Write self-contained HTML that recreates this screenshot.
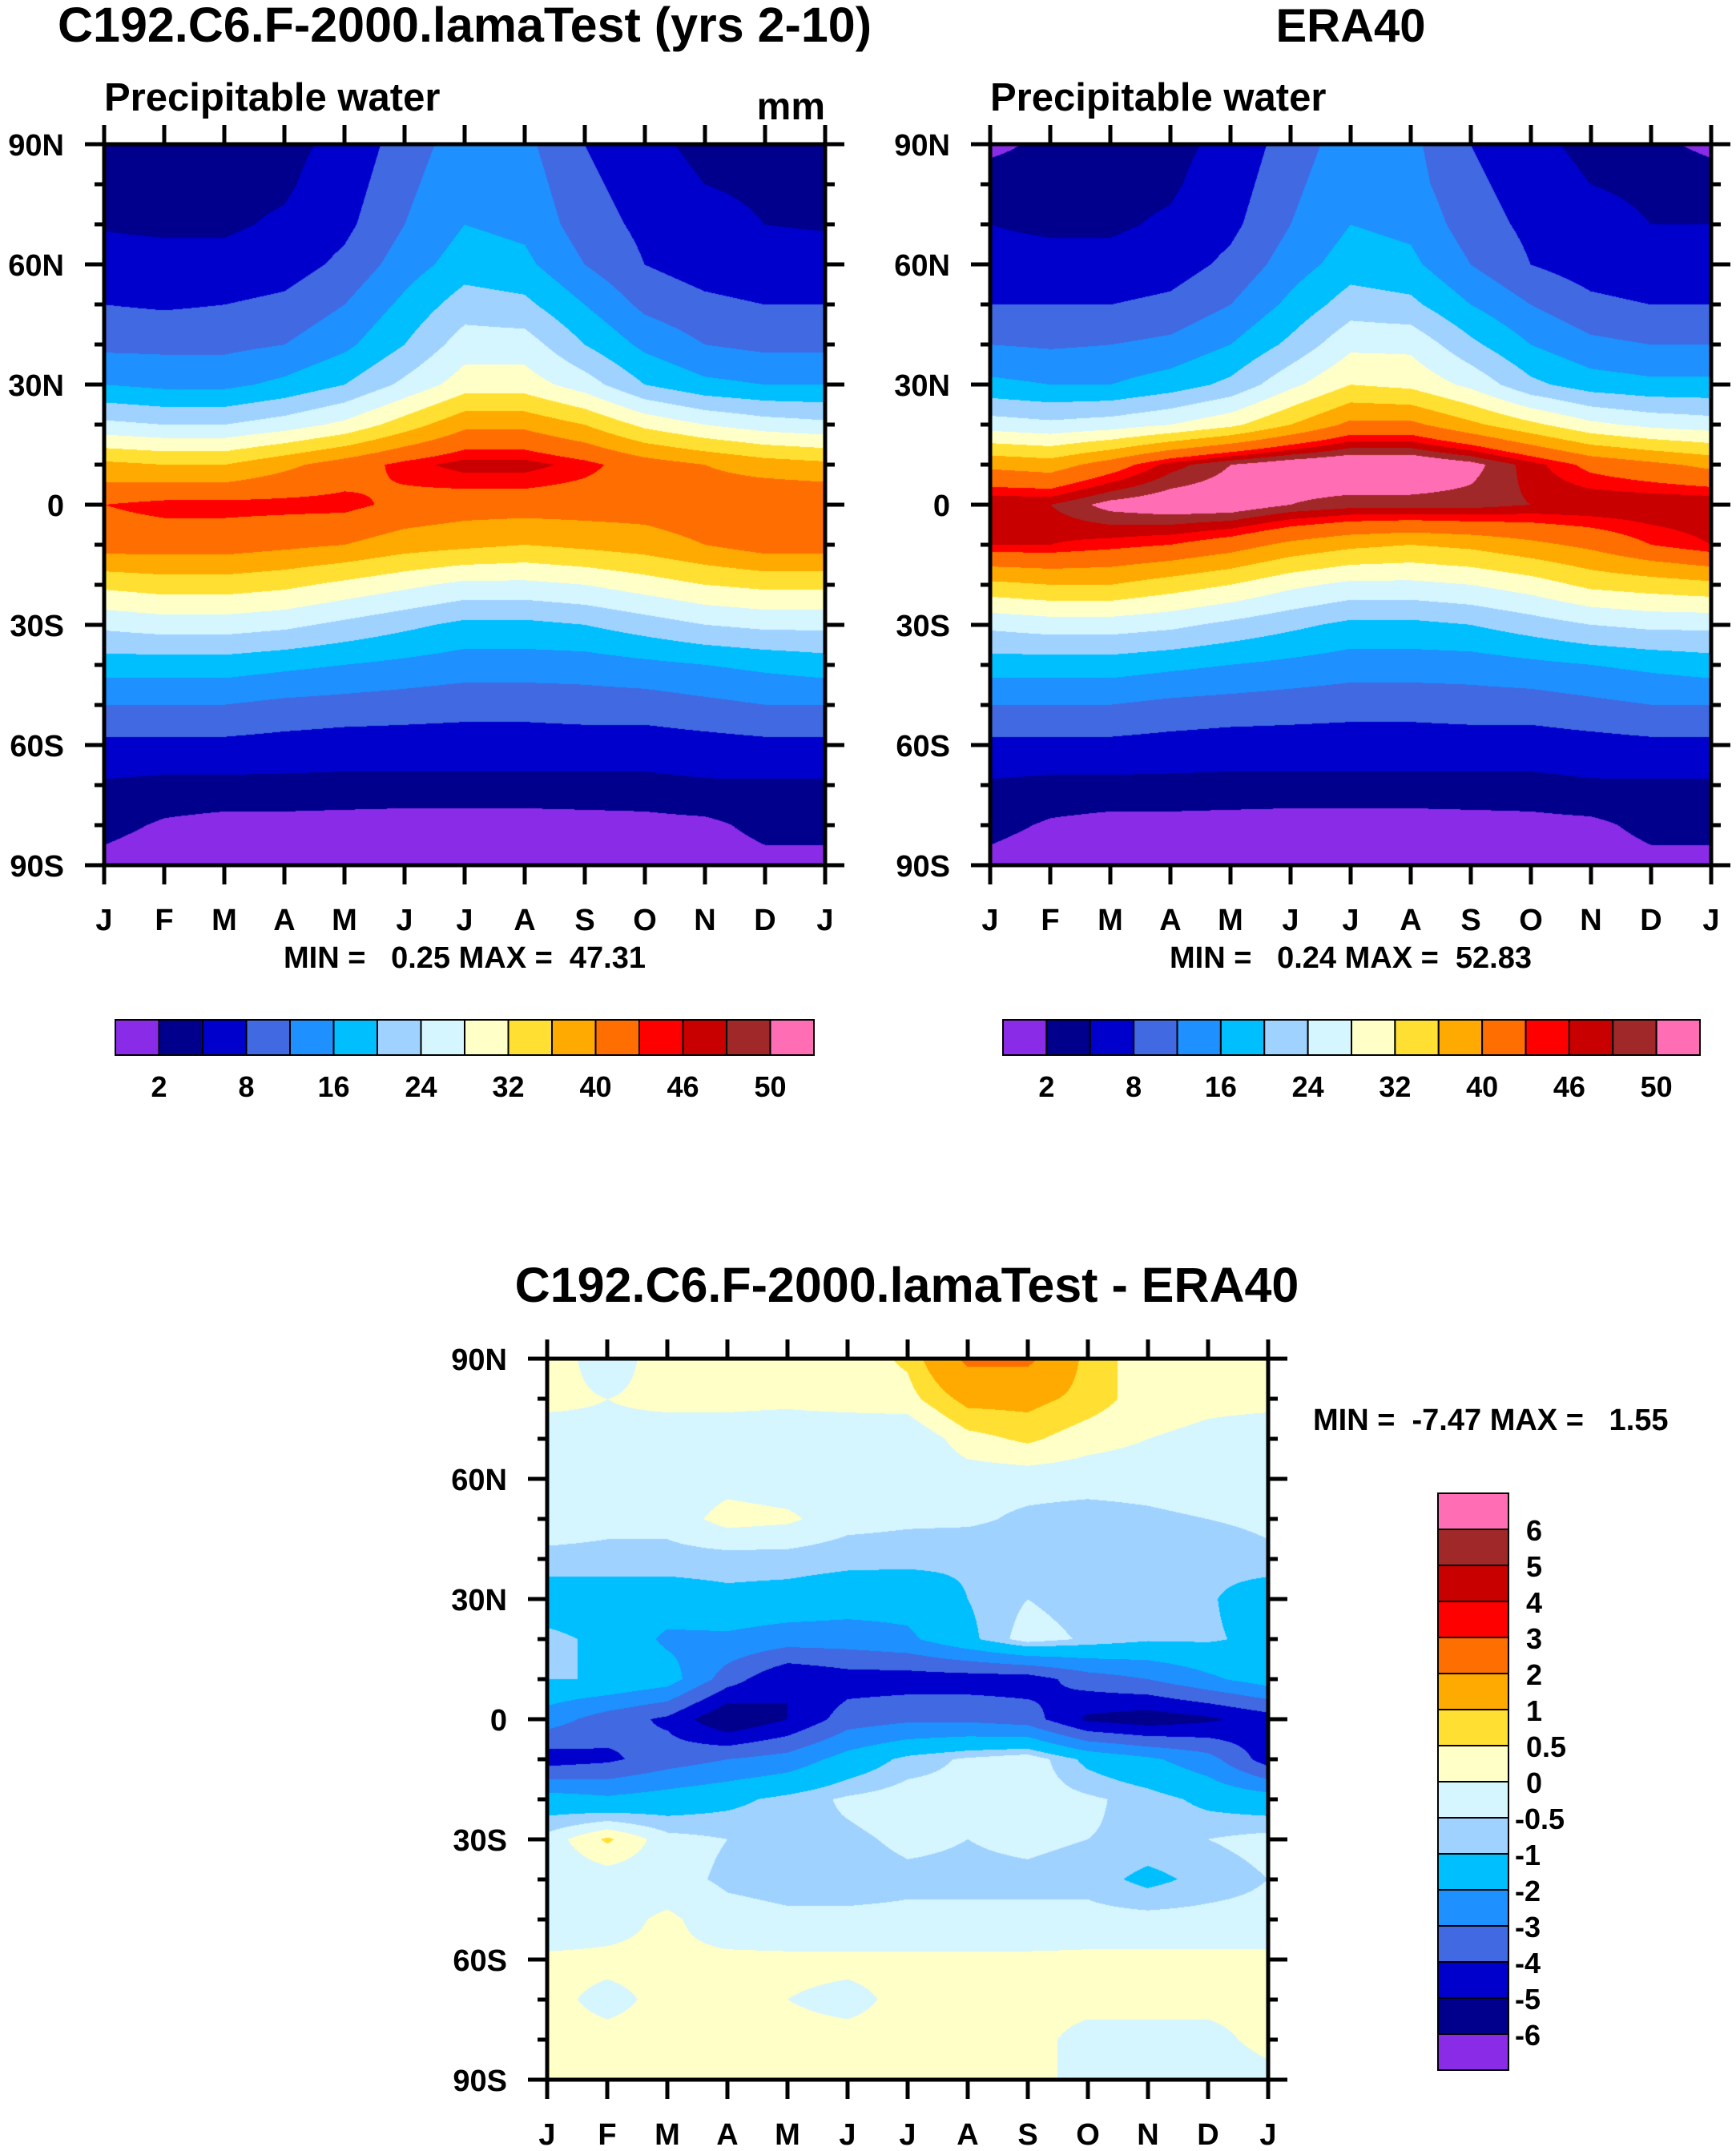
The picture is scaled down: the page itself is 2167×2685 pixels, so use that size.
<!DOCTYPE html>
<html><head><meta charset="utf-8">
<style>
html,body{margin:0;padding:0;background:#fff;}
body{width:2167px;height:2685px;position:relative;overflow:hidden;font-family:"Liberation Sans",Arial,sans-serif;}
canvas{position:absolute;}
svg{position:absolute;left:0;top:0;}
text{font-family:"Liberation Sans",Arial,sans-serif;font-weight:bold;fill:#000;white-space:pre;}
</style></head>
<body>
<canvas id="c1" width="900" height="900" style="left:130px;top:180px"></canvas>
<canvas id="c2" width="900" height="900" style="left:1236px;top:180px"></canvas>
<canvas id="c3" width="900" height="900" style="left:683px;top:1696px"></canvas>
<svg id="ov" width="2167" height="2685"></svg>
<script>
const months = ["J","F","M","A","M","J","J","A","S","O","N","D","J"];
const latLabels = ["90N","60N","30N","0","30S","60S","90S"];
const colors = ["#8A2BE8","#00008C","#0000CD","#4169E1","#1E90FF","#00BFFF","#A0D2FF","#D5F5FF","#FFFFC8","#FFE032","#FFAA00","#FF6E00","#FF0000","#C80000","#A02828","#FF6EB4"];
const pwLevels = [2,4,8,12,16,20,24,28,32,36,40,44,46,48,50];
const pwLabels = ["2","8","16","24","32","40","46","50"];
const diffLevels = [-6,-5,-4,-3,-2,-1,-0.5,0,0.5,1,2,3,4,5,6];
const diffLabels = ["6","5","4","3","2","1","0.5","0","-0.5","-1","-2","-3","-4","-5","-6"];
// rows: 90N..90S step 10 deg; columns: J..J
const modelPW = [
[3,2.5,2.5,3,5,10,14,13,8,5,3,3,3],
[3,3,3,3.5,6,11,15,14,9,6,4,3.5,3],
[3.8,3.5,3.5,4.5,7,12,16,15,10,7,5,4,3.8],
[5,5,5,6,9,14,18,17,12,8,6,5,5],
[8,7.5,8,9,12,17,22,21,16,11,9,8,8],
[11,11,11,12,15,20,26,26,20,15,12,11,11],
[16,15,15,17,20,25,30,30,26,20,17,16,16],
[25,24,24,26,29,34,39,39,36,31,28,26,25],
[37,36,36,39,42,45,47,47,45,42,40,38,37],
[44,45,45,45,45,43,42,42,42,42,43,44,44],
[42,42,42,41,40,38,37,36,37,38,40,42,42],
[33,34,34,33,31,29,27,27,28,30,32,33,33],
[25,26,26,25,23,21,19,19,20,22,24,25,25],
[18,18,18,17,16,15,14,14,14,15,16,17,18],
[12,12,12,11,10.5,10,9.5,9.5,10,10,11,12,12],
[7,7,7,6.5,6,6,6,6,6,6,6.5,7,7],
[3.5,3,3,3,3,3,3,3,3,3,3.5,3.5,3.5],
[2.5,1.8,1.5,1.5,1.4,1.3,1.3,1.3,1.4,1.5,1.6,2.5,2.5],
[1.5,1,1,1,1,1,1,1,1,1,1,1.5,1.5]];
const eraPW = [
[1.5,2.5,2.5,3,5,10,14,13,8,5,3,2.5,1.5],
[3,3,3,3.5,6,11,15,13.5,9,6,4,3.5,3],
[4,3.5,3.5,4.5,7,12,16,15,10,7,5,4,4],
[5,5,5,6,9,14,18,17,12,8,6,5,5],
[8,8,8,9,12,17,22,21,16,12,9,8,8],
[12,11.5,12,13,16,21,27,27,21,16,13,12,12],
[17,16,16,18,21,27,32,31,27,21,18,17,17],
[26,25,26,28,31,36,41,41,37,33,29,27,26],
[39,38,42,47,50,52,53,53,51,47,43,41,39],
[48,48,51,52,52,50,49,49,49,48,48,48,48],
[46,46,45,44,42,39,37,36,37,39,41,44,46],
[35,36,36,34,32,29,27,27,28,30,33,34,35],
[25,26,26,25,23,21,19,19,20,22,24,25,25],
[18,18,18,17,16,15,14,14,14,15,16,17,18],
[12,12,12,11,10.5,10,9.5,9.5,10,10,11,12,12],
[7,7,7,6.5,6,6,6,6,6,6,6.5,7,7],
[3.5,3,3,3,3,3,3,3,3,3,3.5,3.5,3.5],
[2.5,1.8,1.5,1.5,1.4,1.3,1.3,1.3,1.4,1.5,1.6,2.5,2.5],
[1.5,1,1,1,1,1,1,1,1,1,1,1.5,1.5]];
const diffPW = [
[0.2,-0.2,0.2,0.1,0.1,0.2,0.6,2.2,2.2,0.8,0.2,0.2,0.2],
[0.1,0,0.1,0.1,0.1,0.2,0.3,1.2,1.2,0.8,0.2,0.1,0.1],
[-0.2,-0.1,-0.2,-0.2,-0.3,-0.4,-0.5,0.3,0.6,0.2,0,-0.1,-0.2],
[-0.2,-0.2,-0.3,-0.2,-0.3,-0.3,-0.4,-0.3,-0.3,-0.3,-0.3,-0.2,-0.2],
[-0.3,-0.4,-0.3,0.2,0.1,-0.3,-0.4,-0.4,-0.6,-0.7,-0.6,-0.5,-0.4],
[-0.6,-0.6,-0.7,-0.7,-0.7,-0.8,-0.8,-0.9,-0.8,-0.9,-0.9,-0.8,-0.6],
[-1.5,-1.5,-1.4,-1.2,-1.3,-1.5,-1.6,-1.0,-0.5,-0.8,-0.9,-0.9,-1.5],
[-0.8,-1.2,-2.2,-2.2,-2.5,-2.5,-2.2,-1.2,-0.2,-0.6,-0.9,-0.9,-1.2],
[-1.0,-1.0,-1.5,-3.5,-5,-4.5,-4.5,-4.5,-4.5,-3.5,-3,-2.2,-1.5],
[-2.5,-3.5,-4.2,-6,-5,-3.5,-3.2,-3.2,-3.5,-5.2,-5.6,-5.2,-4.5],
[-4.5,-4.2,-3.5,-3,-2.6,-1.6,-0.8,-0.4,-0.1,-1.2,-1.8,-2.6,-4.5],
[-1.5,-1.8,-1.5,-1.2,-0.8,-0.4,-0.2,-0.3,-0.2,-0.4,-0.7,-1.2,-1.5],
[-0.3,0.6,-0.3,-0.5,-0.6,-0.6,-0.4,-0.5,-0.4,-0.5,-0.6,-0.5,-0.3],
[-0.4,-0.3,-0.3,-0.6,-0.7,-0.7,-0.6,-0.6,-0.6,-0.7,-1.2,-0.8,-0.5],
[-0.4,-0.2,0.1,-0.3,-0.4,-0.4,-0.4,-0.4,-0.4,-0.3,-0.3,-0.3,-0.3],
[0.1,0.1,0.1,0.1,0.1,0.1,0.1,0.1,0.1,0.1,0.1,0.1,0.1],
[0.1,-0.1,0.1,0.1,0,-0.1,0.1,0.1,0.1,0.1,0.1,0.1,0.1],
[0.1,0.1,0.1,0.1,0.1,0.1,0.1,0.1,0.1,-0.1,-0.1,-0.1,0.1],
[0.1,0.1,0.1,0.1,0.1,0.1,0.1,0.1,0.1,-0.1,-0.2,-0.2,-0.1]];

function hexRGB(h){return [parseInt(h.substr(1,2),16),parseInt(h.substr(3,2),16),parseInt(h.substr(5,2),16)];}
const rgb = colors.map(hexRGB);
function drawField(id, data, levels){
  const cv=document.getElementById(id), ctx=cv.getContext('2d');
  const W=cv.width,H=cv.height, img=ctx.createImageData(W,H);
  const nr=data.length, nc=data[0].length;
  for(let y=0;y<H;y++){
    const fy=y/(H-1)*(nr-1), r0=Math.min(Math.floor(fy),nr-2), ty=fy-r0;
    for(let x=0;x<W;x++){
      const fx=x/(W-1)*(nc-1), c0=Math.min(Math.floor(fx),nc-2), tx=fx-c0;
      const v=(data[r0][c0]*(1-tx)+data[r0][c0+1]*tx)*(1-ty)+(data[r0+1][c0]*(1-tx)+data[r0+1][c0+1]*tx)*ty;
      let k=0; while(k<levels.length && v>=levels[k]) k++;
      const c=rgb[k], i=(y*W+x)*4;
      img.data[i]=c[0];img.data[i+1]=c[1];img.data[i+2]=c[2];img.data[i+3]=255;
    }
  }
  ctx.putImageData(img,0,0);
}
drawField('c1',modelPW,pwLevels);
drawField('c2',eraPW,pwLevels);
drawField('c3',diffPW,diffLevels);

const NS="http://www.w3.org/2000/svg", ov=document.getElementById('ov');
function mk(tag,attrs,name,txt){
  const e=document.createElementNS(NS,tag);
  for(const k in attrs) e.setAttribute(k,attrs[k]);
  
  
  if(txt!==undefined) e.textContent=txt;
  ov.appendChild(e); return e;
}
function axes(x0,y0,prefix){
  const w=900,h=900;
  mk('rect',{x:x0,y:y0,width:w,height:h,fill:'none',stroke:'#000','stroke-width':5},prefix+'-frame');
  for(let i=0;i<13;i++){
    const x=x0+i*w/12;
    mk('line',{x1:x,y1:y0+h,x2:x,y2:y0+h+24,stroke:'#000','stroke-width':5},prefix+'-x-tick');
    mk('line',{x1:x,y1:y0,x2:x,y2:y0-24,stroke:'#000','stroke-width':5},prefix+'-x-tick-top');
    mk('text',{x:x,y:y0+h+81,'font-size':38,'text-anchor':'middle'},prefix+'-month-label',months[i]);
  }
  for(let j=0;j<=18;j++){
    const y=y0+j*h/18, len=(j%3==0)?24:12;
    mk('line',{x1:x0,y1:y,x2:x0-len,y2:y,stroke:'#000','stroke-width':5},prefix+'-y-tick');
    mk('line',{x1:x0+w,y1:y,x2:x0+w+len,y2:y,stroke:'#000','stroke-width':5},prefix+'-y-tick-right');
    if(j%3==0) mk('text',{x:x0-50,y:y+14,'font-size':38,'text-anchor':'end'},prefix+'-lat-label',latLabels[j/3]);
  }
}
axes(130,180,'model');axes(1236,180,'era40');axes(683,1696,'diff');

mk('text',{x:580,y:52,'font-size':61,'text-anchor':'middle'},'model-title','C192.C6.F-2000.lamaTest (yrs 2-10)');
mk('text',{x:1686,y:52,'font-size':58,'text-anchor':'middle'},'era40-title','ERA40');
mk('text',{x:130,y:138,'font-size':49},'model-subtitle','Precipitable water');
mk('text',{x:1030,y:149,'font-size':48,'text-anchor':'end'},'model-units','mm');
mk('text',{x:1236,y:138,'font-size':49},'era40-subtitle','Precipitable water');
mk('text',{x:580,y:1208,'font-size':38,'text-anchor':'middle'},'model-minmax','MIN =   0.25 MAX =  47.31');
mk('text',{x:1686,y:1208,'font-size':38,'text-anchor':'middle'},'era40-minmax','MIN =   0.24 MAX =  52.83');
mk('text',{x:1132,y:1625,'font-size':61,'text-anchor':'middle'},'diff-title','C192.C6.F-2000.lamaTest - ERA40');
mk('text',{x:1639,y:1785,'font-size':38},'diff-minmax','MIN =  -7.47 MAX =   1.55');

function hbar(x0,y0,w,h,prefix){
  const bw=w/16;
  for(let i=0;i<16;i++) mk('rect',{x:x0+i*bw,y:y0,width:bw,height:h,fill:colors[i],stroke:'#000','stroke-width':2},prefix+'-colorbar-box');
  for(let i=0;i<pwLabels.length;i++) mk('text',{x:x0+(2*i+1)*bw,y:y0+h+52,'font-size':36,'text-anchor':'middle'},prefix+'-colorbar-label',pwLabels[i]);
}
hbar(144,1273,872,44,'model');hbar(1252,1273,870,44,'era40');
(function(){
  const x0=1795,y0=1864,w=88,bh=45;
  for(let i=0;i<16;i++) mk('rect',{x:x0,y:y0+i*bh,width:w,height:bh,fill:colors[15-i],stroke:'#000','stroke-width':2},'diff-colorbar-box');
  for(let i=0;i<diffLabels.length;i++) mk('text',{x:x0+w+(diffLabels[i][0]=='-'?8:22),y:y0+(i+1)*bh+14,'font-size':36},'diff-colorbar-label',diffLabels[i]);
})();
</script>
</body></html>
